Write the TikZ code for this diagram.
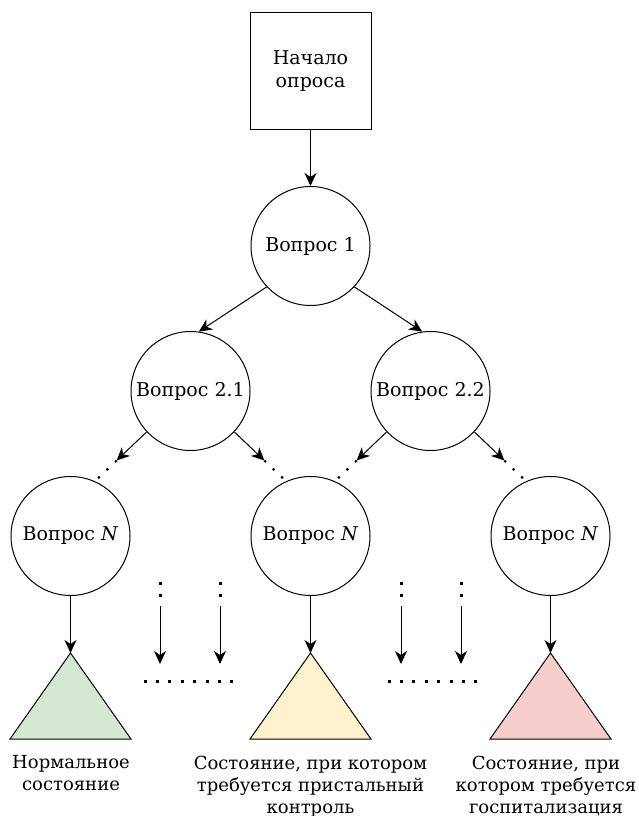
\documentclass[tikz,border=0pt]{standalone}
\usepackage{fontspec}
\setmainfont{DejaVu Serif}
\usetikzlibrary{shapes.geometric,arrows.meta,calc}
\definecolor{tgreen}{HTML}{D5E8D4}
\definecolor{tyellow}{HTML}{FFF2CC}
\definecolor{tred}{HTML}{F8CECC}
\begin{document}
\begin{tikzpicture}[x=1pt,y=-1pt,
  every node/.style={font=\fontsize{18}{22}\selectfont},
  qnode/.style={circle,draw,line width=1pt,minimum size=119pt,inner sep=0pt,font=\fontsize{19}{22}\selectfont},
  startbox/.style={rectangle,draw,line width=1pt,minimum width=121pt,minimum height=116pt,inner sep=0pt,align=center,font=\fontsize{19}{23}\selectfont},
  arr/.style={line width=1pt,-{Stealth[length=13pt,width=12pt,inset=4pt]}},
  ddots/.style={line width=2.2pt,dash pattern=on 2.2pt off 9.5pt},
  sqdots/.style={line width=3pt,dash pattern=on 3pt off 9.4pt},
  tri/.style={draw,line width=1pt,line join=miter},
  lbl/.style={anchor=north,align=center,inner sep=0pt}
]
\useasboundingbox (0,0) rectangle (639,816);

% nodes
\node[startbox] (start) at (310.5,71) {Начало\\опроса};
\node[qnode] (q1) at (310.5,246) {Вопрос 1};
\node[qnode] (q21) at (190.5,391) {Вопрос 2.1};
\node[qnode] (q22) at (430.5,391) {Вопрос 2.2};
\node[qnode] (n1) at (70.5,536) {Вопрос \textit{N}};
\node[qnode] (n2) at (310.5,536) {Вопрос \textit{N}};
\node[qnode] (n3) at (550.5,536) {Вопрос \textit{N}};

% triangle apices
\coordinate (t1) at (70.5,653);
\coordinate (t2) at (310.5,653);
\coordinate (t3) at (550.5,653);
\path[tri,fill=tgreen] (t1) -- ++(60.5,86) -- ++(-121,0) -- cycle;
\path[tri,fill=tyellow] (t2) -- ++(60.5,86) -- ++(-121,0) -- cycle;
\path[tri,fill=tred] (t3) -- ++(60.5,86) -- ++(-121,0) -- cycle;

% labels
\node[lbl] (l1) at (71,755.5) {Нормальное\\состояние};
\node[lbl] (l2) at (310.5,755.5) {Состояние, при котором\\требуется пристальный\\контроль};
\node[lbl] (l3) at (546,755.5) {Состояние, при\\котором требуется\\госпитализация};

% connectors
\draw[arr] (start) -- (q1);
\draw[arr] (q1.223) -- (q21.82);
\draw[arr] (q1.317) -- (q22.98);

\coordinate (a1) at ($(q21.223)!0.58!(n1.66)$);
\draw[arr] (q21.223) -- (a1);
\draw[ddots] (a1) -- (n1.66);
\coordinate (a2) at ($(q21.317)!0.58!(n2.114)$);
\draw[arr] (q21.317) -- (a2);
\draw[ddots] (a2) -- (n2.114);
\coordinate (a3) at ($(q22.223)!0.58!(n2.66)$);
\draw[arr] (q22.223) -- (a3);
\draw[ddots] (a3) -- (n2.66);
\coordinate (a4) at ($(q22.317)!0.58!(n3.114)$);
\draw[arr] (q22.317) -- (a4);
\draw[ddots] (a4) -- (n3.114);

\draw[arr] (n1) -- (t1);
\draw[arr] (n2) -- (t2);
\draw[arr] (n3) -- (t3);

% elided branches
\foreach \x [count=\i] in {160,220,401,461}{
  \coordinate (v\i top) at (\x,581.5);
  \coordinate (v\i mid) at (\x,605.5);
  \coordinate (v\i end) at (\x,664);
  \draw[sqdots] (v\i top) -- (v\i mid);
  \draw[arr] (v\i mid) -- (v\i end);
}
\coordinate (h1a) at (143.5,681);
\coordinate (h1b) at (236,681);
\coordinate (h2a) at (387.5,681);
\coordinate (h2b) at (480,681);
\draw[sqdots] (h1a) -- (h1b);
\draw[sqdots] (h2a) -- (h2b);
\end{tikzpicture}
\end{document}
